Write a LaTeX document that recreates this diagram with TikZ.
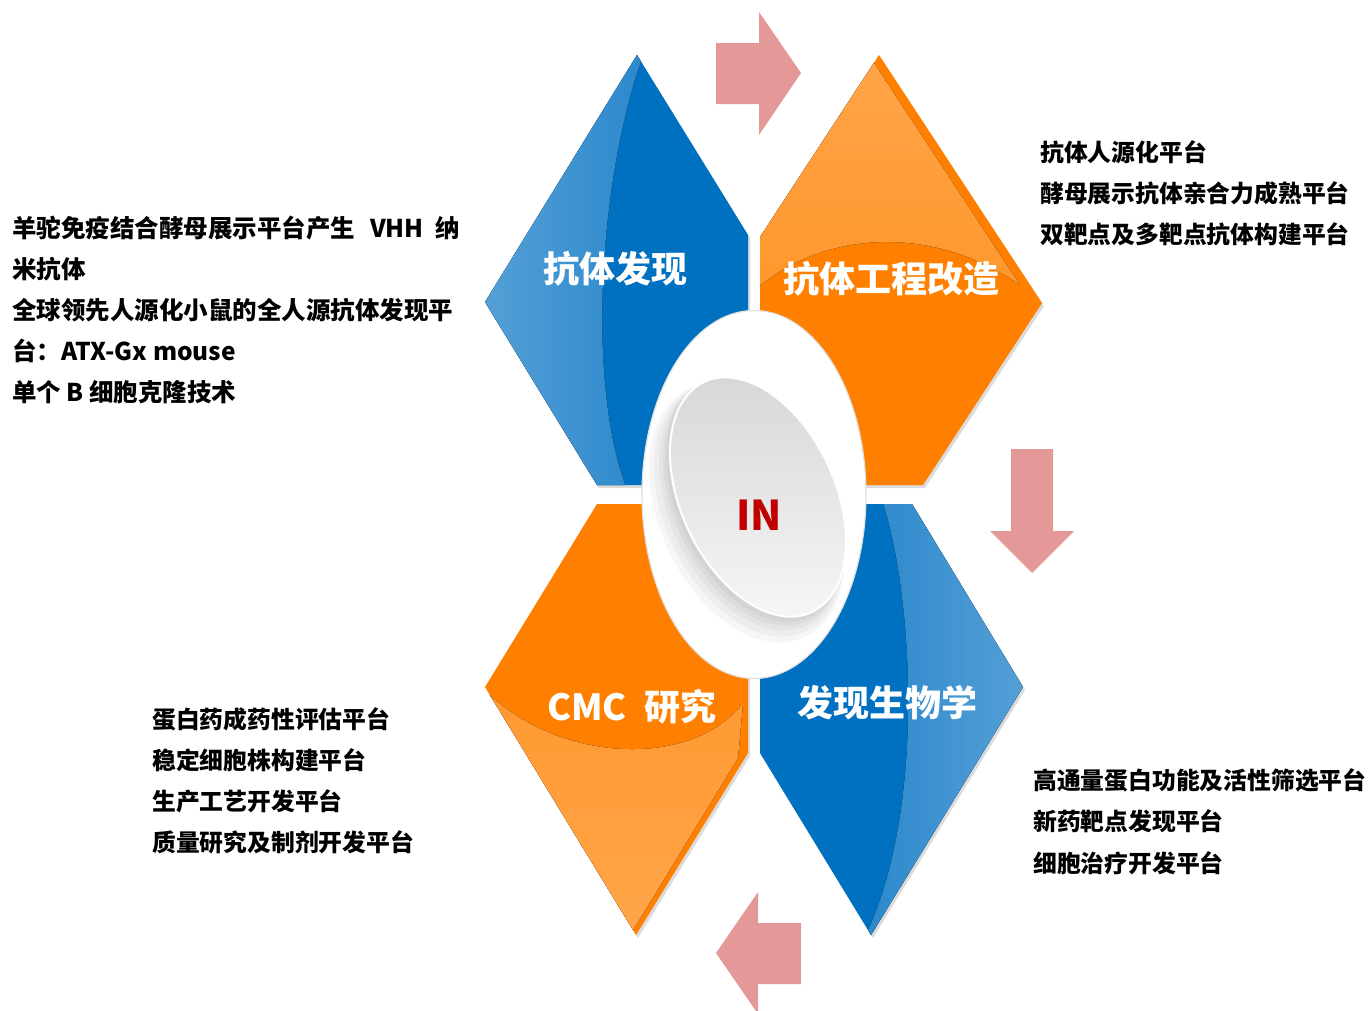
\documentclass[tikz,border=0pt]{standalone}
\usepackage{fontspec}
\setmainfont{Noto Sans CJK SC}

\definecolor{bleuBase}{RGB}{0,112,192}
\definecolor{bleuClair}{RGB}{86,160,215}
\definecolor{orangeBase}{RGB}{255,128,0}
\definecolor{orangeClair}{RGB}{255,166,74}
\definecolor{rose}{RGB}{228,152,152}
\definecolor{rougeIN}{RGB}{192,0,0}

% contours des quatre losanges
\newcommand{\losangeHG}{(637,55) -- (748,235) -- (748,485) -- (597,485) -- (485,302) -- cycle}
\newcommand{\losangeHD}{(879,55) -- (1042,303) -- (923,485) -- (760,485) -- (760,237) -- cycle}
\newcommand{\losangeBG}{(597,504) -- (748,504) -- (748,753) -- (636,935) -- (485,687) -- cycle}
\newcommand{\losangeBD}{(760,504) -- (912,504) -- (1023,687) -- (871,935) -- (760,753) -- cycle}

\tikzset{
  ligne/.style = {anchor = base west, inner sep = 0pt, text = black,
                  font = \fontsize{23.8}{28}\selectfont\bfseries},
  lignel/.style = {ligne, font = \fontsize{24.5}{28}\selectfont\bfseries},
  titre/.style = {anchor = base, inner sep = 0pt, text = white,
                  font = \fontsize{36}{40}\selectfont\bfseries},
  fleche/.style = {fill = rose},
  ombre/.style = {fill = black, opacity = 0.14, shift = {(2,3)}},
  flou/.style = {fill = black, opacity = 0.035},
}

\begin{document}
\begin{tikzpicture}[x=1pt,y=-1pt]

\useasboundingbox (0,0) rectangle (1370,1010) ;
\fill[white] (0,0) rectangle (1370,1010) ;

% flèches

\fill[fleche] (716,43) -- (759,43) -- (759,12) -- (801,73) -- (759,135) -- (759,104) -- (716,104) -- cycle ;
\fill[fleche] (1011,449) -- (1053,449) -- (1053,531) -- (1074,531) -- (1032,573) -- (990,531) -- (1011,531) -- cycle ;
\fill[fleche] (801,923) -- (758,923) -- (758,892) -- (716,953) -- (758,1014) -- (758,984) -- (801,984) -- cycle ;

% ombres

\fill[ombre] \losangeHG ;
\fill[ombre] \losangeHD ;
\fill[ombre] \losangeBG ;
\fill[ombre] \losangeBD ;

% losanges

\fill[bleuBase] \losangeHG ;
\fill[orangeBase] \losangeHD ;
\fill[orangeBase] \losangeBG ;
\fill[bleuBase] \losangeBD ;

% reflets clairs

\begin{scope}
\clip \losangeHG ;
\fill[left color = bleuClair, right color = bleuClair!50!bleuBase]
  (480,50) -- (645,50) .. controls (600,170) and (585,380) .. (627,490) -- (480,490) -- cycle ;
\end{scope}

\begin{scope}
\clip \losangeHD ;
\fill[top color = orangeClair, bottom color = orangeClair!60!orangeBase]
  (755,40) -- (872,40) -- (872,60) -- (1020,285) .. controls (930,222) and (820,232) .. (755,290) -- cycle ;
\end{scope}

\begin{scope}
\clip \losangeBG ;
\fill[top color = orangeClair!65!orangeBase, bottom color = orangeClair]
  (480,685) .. controls (550,762) and (690,772) .. (743,703) -- (738,758) -- (627,940) -- (480,940) -- cycle ;
\end{scope}

\begin{scope}
\clip \losangeBD ;
\fill[left color = bleuClair!50!bleuBase, right color = bleuClair]
  (882,500) .. controls (915,600) and (925,820) .. (863,940) -- (1030,940) -- (1030,500) -- cycle ;
\end{scope}

% ellipse centrale

\fill[white, draw = black!12, line width = 1.2pt] (754,494.5) ellipse [x radius = 112pt, y radius = 184pt] ;

\fill[flou, rotate around = {25:(747,513)}] (747,513) ellipse [x radius = 87pt, y radius = 137pt] ;
\fill[flou, rotate around = {25:(749,510)}] (749,510) ellipse [x radius = 84pt, y radius = 134pt] ;
\fill[flou, rotate around = {25:(751,507)}] (751,507) ellipse [x radius = 81pt, y radius = 131pt] ;
\fill[flou, rotate around = {25:(753,504)}] (753,504) ellipse [x radius = 79pt, y radius = 129pt] ;
\fill[flou, rotate around = {25:(755,501)}] (755,501) ellipse [x radius = 78pt, y radius = 128pt] ;

\draw[white, line width = 2pt, top color = black!16, bottom color = black!3, rotate around = {25:(758,497)}]
  (758,497) ellipse [x radius = 77pt, y radius = 127pt] ;

\node[anchor = base, text = rougeIN, font = \fontsize{41}{45}\selectfont\bfseries] (coeur) at (759,530) {IN} ;

% titres des losanges

\node[titre] (t_decouverte) at (615,282) {抗体发现} ;
\node[titre] (t_ingenierie) at (891,292) {抗体工程改造} ;
\node[titre] (t_cmc) at (632,720) {CMC\hspace{18pt}研究} ;
\node[titre] (t_biologie) at (887,716) {发现生物学} ;

% textes à gauche

\node[lignel] (g_1) at (12,237) {羊驼免疫结合酵母展示平台产生\hspace{15pt}VHH\hspace{12pt}纳} ;
\node[lignel] (g_2) at (12,278) {米抗体} ;
\node[lignel] (g_3) at (12,319) {全球领先人源化小鼠的全人源抗体发现平} ;
\node[lignel] (g_4) at (12,360) {台：ATX-Gx mouse} ;
\node[lignel] (g_5) at (12,401) {单个 B 细胞克隆技术} ;

% textes à droite

\node[ligne] (d_1) at (1040,161) {抗体人源化平台} ;
\node[ligne] (d_2) at (1040,202) {酵母展示抗体亲合力成熟平台} ;
\node[ligne] (d_3) at (1040,243) {双靶点及多靶点抗体构建平台} ;

% textes en bas

\node[ligne] (bg_1) at (152,728) {蛋白药成药性评估平台} ;
\node[ligne] (bg_2) at (152,769) {稳定细胞株构建平台} ;
\node[ligne] (bg_3) at (152,810) {生产工艺开发平台} ;
\node[ligne] (bg_4) at (152,851) {质量研究及制剂开发平台} ;

\node[ligne] (bd_1) at (1033,789) {高通量蛋白功能及活性筛选平台} ;
\node[ligne] (bd_2) at (1033,830) {新药靶点发现平台} ;
\node[ligne] (bd_3) at (1033,872) {细胞治疗开发平台} ;

\end{tikzpicture}
\end{document}
